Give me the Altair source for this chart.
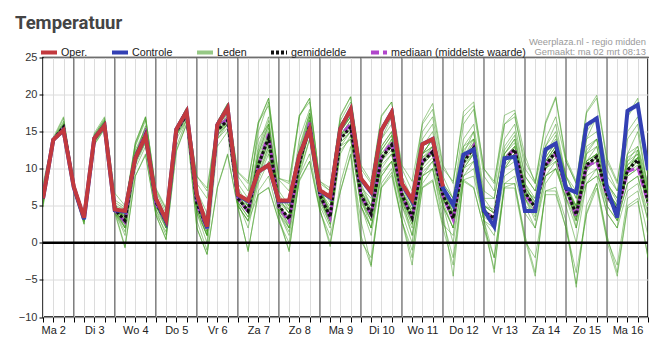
import altair as alt
import pandas as pd

# ---------------- data ----------------
dagen = ["Ma 2", "Di 3", "Wo 4", "Do 5", "Vr 6", "Za 7", "Zo 8", "Ma 9",
         "Di 10", "Wo 11", "Do 12", "Vr 13", "Za 14", "Zo 15", "Ma 16"]
# hours since Ma 2 00:00, every 6 hours (06, 12, 18, 00 ...)
uren = list(range(6, 361, 6))
daggrenzen = list(range(24, 337, 24))

oper = [6.0, 13.9, 15.2, 7.6, 3.4, 14.1, 15.8, 4.5, 4.3, 11.4, 14.4, 6.0,
        3.1, 15.3, 17.7, 6.5, 2.2, 15.9, 18.2, 6.5, 5.7, 9.6, 10.5, 5.7,
        5.7, 11.8, 15.3, 7.1, 6.2, 15.4, 18.0, 8.7, 6.9, 15.2, 17.6, 8.0,
        5.8, 13.3, 14.0, 7.6]

controle = [6.0, 13.9, 15.2, 7.5, 3.2, 14.1, 15.8, 4.4, 4.2, 11.4, 14.4, 5.9,
            2.9, 15.3, 17.7, 6.4, 2.0, 15.9, 18.2, 6.4, 5.6, 9.6, 10.5, 5.6,
            5.6, 11.8, 15.3, 7.0, 6.1, 15.4, 18.0, 8.6, 6.8, 15.2, 17.6, 7.9,
            5.6, 13.3, 14.0, 7.4, 5.1, 11.9, 12.6, 4.4, 2.2, 11.4, 11.6, 4.3,
            4.3, 12.6, 13.4, 7.4, 6.8, 15.9, 16.8, 7.4, 3.4, 17.8, 18.6, 9.8]

gemiddelde = [6.0, 13.9, 15.6, 7.5, 3.3, 14.0, 15.9, 4.5, 3.0, 11.5, 14.6, 5.5,
              2.8, 15.0, 17.3, 5.3, 2.0, 15.2, 16.5, 6.0, 4.3, 10.5, 14.2, 5.0,
              3.2, 10.8, 15.8, 6.5, 3.5, 14.0, 15.6, 6.5, 3.9, 11.4, 13.2, 6.5,
              3.4, 10.9, 12.3, 6.5, 3.3, 10.9, 12.8, 4.2, 3.3, 11.2, 12.6, 6.9,
              4.7, 10.5, 12.3, 7.4, 3.8, 10.5, 11.6, 6.5, 4.2, 9.8, 11.2, 5.6]

mediaan = [6.0, 13.9, 15.5, 7.5, 3.3, 14.0, 15.9, 4.4, 2.8, 11.6, 14.9, 5.3,
           2.9, 15.1, 17.4, 5.2, 1.9, 15.5, 16.7, 6.0, 4.2, 10.4, 14.7, 4.8,
           2.9, 11.0, 16.2, 6.5, 3.4, 14.5, 16.0, 6.4, 3.8, 11.6, 13.6, 6.4,
           3.4, 11.0, 12.4, 6.3, 3.1, 11.1, 13.1, 4.3, 3.3, 11.3, 12.7, 6.5,
           4.6, 10.5, 12.0, 7.2, 3.6, 10.4, 11.0, 6.4, 4.1, 9.6, 10.2, 5.4]

leden = [
    [7.5, 14.0, 16.8, 7.8, 3.6, 14.5, 16.8, 5.5, 4.5, 13.0, 16.5, 6.5, 3.5, 15.5, 18.0, 7.0,
     4.0, 16.0, 18.5, 8.0, 6.0, 15.0, 19.0, 7.0, 5.0, 14.0, 18.0, 7.5, 4.0, 16.0, 18.0, 8.0,
     5.0, 13.0, 15.0, 6.0, 1.0, 9.0, 10.0, 5.0, 0.0, 9.0, 10.0, 3.0, -2.0, 8.0, 9.0, 4.0,
     2.0, 9.0, 11.0, 5.0, 0.0, 8.0, 10.0, 4.0, 2.0, 12.0, 15.0, 7.0],
    [5.0, 13.8, 15.2, 7.2, 3.0, 13.8, 15.6, 4.2, 1.0, 10.0, 13.0, 4.0, 1.5, 14.0, 16.5, 4.0,
     0.0, 14.5, 16.0, 5.5, 2.0, 8.0, 11.0, 4.0, 1.0, 9.0, 14.0, 5.0, 2.0, 12.0, 14.5, 5.0,
     1.0, 9.0, 11.0, 5.0, 4.0, 12.0, 14.0, 7.0, 5.0, 13.0, 15.0, 6.0, 6.0, 14.0, 16.0, 9.0,
     7.0, 13.0, 15.0, 9.0, 6.0, 14.0, 17.0, 9.0, 7.0, 12.0, 13.0, 8.0],
    [6.5, 14.1, 15.8, 7.6, 3.4, 14.2, 16.2, 4.8, 3.5, 12.5, 15.5, 6.0, 3.0, 15.3, 17.5, 6.0,
     3.0, 16.0, 18.0, 7.0, 5.0, 16.0, 19.5, 8.5, 7.0, 17.0, 19.5, 8.0, 7.0, 17.0, 19.7, 10.0,
     8.0, 17.0, 19.0, 10.0, 7.0, 15.0, 17.0, 9.0, 6.0, 13.0, 14.0, 5.0, 2.0, 10.0, 12.0, 6.0,
     3.0, 9.0, 10.0, 6.0, 4.0, 12.0, 13.0, 7.0, 5.0, 11.0, 12.0, 6.0],
    [5.5, 13.9, 15.4, 7.4, 3.2, 13.6, 15.5, 4.3, -0.5, 9.0, 12.0, 3.8, 0.5, 12.5, 16.0, 2.0,
     -1.5, 7.5, 12.0, 4.7, -1.0, 6.5, 7.5, 3.0, -1.0, 8.5, 11.0, 4.5, 0.0, 7.0, 12.0, 3.0,
     -3.0, 7.5, 9.5, 3.0, -3.0, 7.5, 8.5, 2.5, 1.0, 9.0, 11.0, 3.0, 2.0, 10.0, 12.0, 5.0,
     4.0, 11.0, 13.0, 8.0, 5.0, 13.0, 14.0, 7.0, 3.0, 8.0, 9.0, 3.0],
    [6.0, 13.9, 15.6, 7.5, 3.3, 14.0, 16.0, 4.6, 3.0, 11.5, 14.5, 5.5, 2.5, 15.0, 17.5, 5.5,
     2.5, 15.5, 17.0, 6.0, 4.0, 11.0, 15.0, 5.0, 3.0, 12.0, 17.0, 7.0, 4.0, 15.0, 17.0, 7.0,
     4.0, 14.0, 17.0, 8.0, 5.0, 14.0, 16.0, 8.0, 6.0, 16.0, 18.0, 9.0, 7.0, 16.0, 17.5, 10.0,
     8.0, 16.0, 19.5, 11.0, 8.0, 17.5, 19.5, 11.0, 8.0, 17.0, 19.0, 9.5],
    [4.8, 13.7, 15.1, 7.1, 2.5, 13.3, 15.4, 4.1, 2.0, 11.0, 14.0, 5.0, 2.0, 14.5, 17.0, 4.5,
     1.0, 15.0, 16.5, 5.5, 3.5, 9.5, 13.0, 4.5, 2.0, 10.0, 15.0, 6.0, 3.0, 13.0, 15.0, 6.0,
     2.0, 10.0, 12.0, 5.0, 1.0, 8.0, 10.0, 4.0, -4.5, 8.5, 7.5, 2.0, -3.5, 7.5, 8.0, 1.0,
     -4.0, 7.0, 7.0, 2.0, -5.5, 4.0, 8.0, 1.0, -4.0, 5.0, 6.0, -2.0],
    [6.2, 13.9, 15.7, 7.6, 3.5, 14.1, 16.0, 4.5, 4.0, 12.0, 15.0, 6.0, 3.5, 15.5, 17.8, 5.5,
     2.0, 15.5, 17.0, 6.0, 5.0, 12.0, 16.0, 5.5, 4.0, 12.0, 17.0, 7.0, 4.0, 15.0, 17.0, 7.0,
     5.0, 13.0, 15.0, 7.0, 4.0, 12.0, 14.0, 7.0, 3.0, 12.0, 15.0, 6.0, 4.0, 12.0, 14.0, 8.0,
     5.0, 11.0, 13.0, 8.0, 3.0, 10.0, 11.0, 6.0, 5.0, 9.0, 10.0, 5.0],
    [6.0, 13.9, 15.5, 7.5, 3.4, 14.0, 15.8, 4.4, 3.0, 11.5, 15.0, 5.0, 3.0, 15.2, 17.2, 5.0,
     2.0, 15.8, 16.8, 6.0, 4.5, 10.0, 14.0, 4.5, 3.0, 10.0, 15.5, 6.5, 3.5, 14.5, 16.0, 6.0,
     3.0, 11.0, 12.5, 6.0, 3.0, 11.0, 12.0, 6.0, 3.0, 11.0, 13.0, 4.0, 3.0, 11.0, 12.0, 7.0,
     5.0, 10.0, 12.0, 8.0, 4.0, 11.0, 12.0, 6.0, 4.0, 10.0, 11.0, 5.0],
    [7.0, 14.0, 16.0, 7.7, 3.6, 14.4, 16.5, 5.0, 4.5, 13.5, 17.0, 7.0, 4.0, 15.5, 18.0, 8.0,
     6.0, 16.3, 18.8, 9.0, 7.0, 14.0, 16.0, 6.0, 5.0, 11.0, 15.0, 6.0, 3.0, 13.0, 14.0, 5.0,
     2.0, 9.0, 11.0, 4.0, 0.0, 9.0, 11.0, 5.0, 2.0, 10.0, 12.0, 4.0, 3.0, 12.0, 14.0, 7.0,
     6.0, 13.0, 16.0, 9.0, 7.0, 14.0, 15.0, 8.0, 6.0, 14.0, 16.0, 7.0],
    [5.8, 13.8, 15.4, 7.3, 3.1, 13.9, 15.7, 4.3, 2.0, 11.0, 14.0, 4.5, 2.0, 14.8, 17.0, 4.0,
     1.0, 14.5, 16.0, 5.0, 3.0, 9.0, 13.0, 4.0, 2.0, 10.0, 16.0, 6.0, 3.0, 15.0, 17.0, 6.0,
     3.0, 11.0, 13.0, 6.0, 3.0, 11.0, 13.0, 6.0, 3.0, 11.0, 13.0, 4.0, 3.0, 11.0, 12.0, 6.0,
     4.0, 10.0, 11.0, 6.0, 3.0, 9.0, 10.0, 5.0, 3.0, 8.0, 9.0, 4.0],
    [5.2, 13.7, 15.2, 7.2, 2.8, 13.5, 15.5, 4.2, 1.5, 10.5, 13.5, 4.5, 1.0, 13.0, 16.5, 3.0,
     -1.0, 13.0, 15.0, 5.0, -1.2, 7.0, 9.0, 3.5, -1.2, 9.0, 12.0, 4.5, -0.5, 8.0, 13.0, 1.0,
     -3.2, 8.0, 10.0, 3.0, -2.0, 9.0, 10.0, 3.0, -2.0, 8.5, 9.0, 3.0, -4.0, 8.0, 8.0, 0.5,
     -4.5, 7.0, 7.5, 3.0, -6.0, 5.0, 8.0, 0.5, -3.0, 6.0, 7.0, 1.0],
    [6.1, 13.9, 15.6, 7.5, 3.3, 14.0, 15.9, 4.5, 3.2, 11.8, 14.8, 5.6, 3.0, 15.0, 17.3, 5.3,
     2.0, 15.2, 16.5, 6.0, 4.5, 10.5, 14.5, 5.0, 3.5, 11.0, 16.0, 6.5, 3.5, 14.0, 15.5, 6.5,
     4.0, 11.5, 13.0, 6.5, 3.5, 11.0, 12.5, 6.5, 3.5, 11.0, 13.0, 4.5, 3.5, 11.5, 13.0, 7.0,
     5.0, 10.5, 12.5, 7.5, 4.0, 10.5, 12.0, 6.5, 4.5, 10.0, 11.5, 5.5],
    [6.8, 14.0, 16.4, 7.8, 3.7, 14.6, 16.6, 5.8, 4.8, 13.2, 16.8, 7.2, 4.5, 15.6, 18.2, 9.0,
     7.0, 16.0, 18.0, 9.5, 8.0, 16.3, 18.5, 8.7, 8.0, 17.2, 19.0, 8.3, 7.0, 16.5, 19.0, 9.0,
     7.0, 15.0, 17.0, 9.0, 6.0, 16.3, 18.8, 10.5, 8.0, 17.7, 19.0, 10.0, 8.0, 17.2, 17.9, 11.8,
     8.0, 14.0, 17.0, 11.0, 8.0, 15.0, 17.0, 10.0, 7.0, 15.0, 17.0, 9.0],
    [6.3, 14.0, 15.9, 7.6, 3.5, 14.2, 16.3, 5.0, 3.5, 12.0, 15.5, 6.0, 3.2, 15.3, 17.6, 6.0,
     3.0, 15.8, 17.5, 6.5, 5.5, 13.0, 17.0, 6.5, 4.5, 13.0, 17.5, 7.0, 5.0, 15.5, 17.0, 7.5,
     6.0, 14.0, 16.0, 8.0, 6.0, 13.0, 15.0, 8.0, 6.0, 14.0, 16.0, 7.0, 6.0, 13.0, 15.0, 9.0,
     7.0, 12.0, 14.0, 9.0, 6.0, 12.0, 14.0, 8.0, 6.0, 11.0, 13.0, 7.0],
    [5.6, 13.8, 15.3, 7.3, 3.0, 13.8, 15.6, 4.3, 2.5, 10.8, 13.8, 5.0, 2.2, 14.5, 16.8, 4.5,
     1.0, 14.0, 15.5, 5.0, 3.0, 8.5, 12.0, 4.0, 1.5, 9.5, 14.0, 5.5, 2.5, 12.5, 14.0, 5.0,
     2.0, 9.5, 11.0, 5.0, 2.0, 9.5, 11.0, 5.0, 2.0, 10.0, 11.0, 3.0, 1.0, 9.0, 10.0, 5.0,
     2.0, 8.0, 10.0, 6.0, 2.0, 8.0, 9.0, 4.0, 2.0, 7.0, 8.0, 3.0],
    [6.4, 14.0, 16.0, 7.6, 3.4, 14.3, 16.4, 5.2, 2.5, 11.0, 13.5, 5.5, 2.5, 14.5, 16.5, 5.0,
     1.5, 14.0, 16.0, 6.5, 4.5, 12.0, 16.0, 6.0, 4.0, 12.5, 17.5, 7.5, 5.5, 16.0, 18.0, 8.5,
     6.5, 15.0, 17.5, 8.5, 5.0, 12.0, 13.0, 7.0, 4.0, 11.0, 12.0, 5.0, 4.0, 10.0, 11.0, 7.0,
     5.0, 9.0, 10.0, 7.0, 5.0, 8.0, 9.0, 7.0, 5.0, 9.0, 10.0, 6.0],
    [5.9, 13.9, 15.5, 7.4, 3.2, 13.9, 15.8, 4.4, 2.5, 11.0, 14.0, 5.0, 2.5, 15.0, 17.0, 5.0,
     2.0, 15.0, 16.5, 6.0, 4.0, 10.0, 13.5, 4.5, 2.5, 10.0, 15.5, 6.5, 3.5, 14.0, 15.5, 6.5,
     4.0, 12.0, 14.0, 7.0, 4.0, 12.0, 13.0, 6.5, 3.5, 11.5, 13.5, 4.0, 3.0, 11.0, 12.5, 6.5,
     4.5, 10.0, 11.5, 7.0, 3.5, 10.0, 11.0, 6.0, 4.0, 9.5, 10.5, 5.0],
    [6.0, 13.9, 15.6, 7.5, 3.3, 14.0, 15.9, 4.5, 3.5, 11.5, 14.5, 5.5, 3.0, 15.0, 17.5, 5.5,
     2.5, 15.5, 17.0, 6.5, 4.5, 11.0, 14.5, 5.0, 3.0, 10.5, 16.0, 6.5, 3.5, 14.5, 16.0, 7.0,
     4.5, 12.0, 13.5, 7.0, 4.0, 11.0, 12.5, 7.0, 4.0, 11.0, 13.0, 5.0, 4.0, 11.5, 13.0, 7.5,
     5.5, 11.0, 13.0, 8.0, 4.5, 11.0, 12.0, 7.0, 5.0, 10.0, 11.5, 6.0],
    [5.3, 13.7, 15.0, 7.0, 2.6, 13.2, 15.3, 4.0, -0.7, 9.0, 11.8, 3.8, 0.4, 12.3, 16.0, 2.0,
     -1.6, 7.4, 11.8, 5.0, 2.9, 6.5, 7.4, 2.9, 0.0, 8.3, 11.0, 4.2, 1.0, 6.9, 11.8, 0.2,
     -2.0, 7.4, 9.1, 2.9, -1.0, 7.4, 8.3, 2.0, -3.0, 8.3, 7.4, 2.0, -2.0, 7.4, 7.4, 0.2,
     -2.0, 6.5, 6.5, 2.0, -4.0, 3.8, 7.4, 0.2, -4.5, 4.7, 5.6, -2.0],
    [8.0, 14.2, 17.0, 8.0, 3.8, 14.8, 17.0, 6.7, 5.0, 13.5, 17.0, 7.4, 4.7, 15.6, 18.2, 9.0,
     7.4, 16.3, 18.8, 9.6, 8.3, 16.3, 19.5, 8.7, 8.3, 17.2, 19.5, 8.3, 7.4, 17.2, 19.7, 10.5,
     8.3, 17.2, 19.0, 10.5, 8.3, 16.0, 18.0, 10.0, 8.3, 17.0, 18.5, 10.0, 8.3, 16.0, 17.0, 11.0,
     8.3, 16.3, 19.7, 11.4, 8.3, 17.7, 19.9, 11.4, 8.3, 17.2, 19.5, 9.6],
    [6.2, 13.9, 15.8, 7.5, 3.3, 14.1, 16.1, 4.7, 2.0, 11.0, 14.5, 5.0, 3.5, 15.3, 17.0, 6.0,
     3.5, 15.0, 17.5, 7.5, 5.0, 11.5, 15.5, 5.5, 2.0, 11.5, 16.5, 6.0, 2.5, 14.5, 16.5, 5.5,
     3.0, 11.0, 14.0, 6.0, 2.5, 10.5, 12.0, 5.5, 2.0, 11.5, 14.0, 5.0, 4.0, 12.5, 14.5, 8.0,
     6.0, 12.0, 14.5, 8.5, 2.0, 9.5, 12.0, 5.0, 3.0, 9.5, 12.5, 6.5],
    [5.7, 13.8, 15.4, 7.4, 3.1, 13.8, 15.7, 4.2, 3.8, 12.0, 15.2, 6.2, 2.0, 14.8, 17.0, 4.5,
     1.0, 15.0, 16.0, 5.5, 3.5, 9.0, 12.5, 4.0, 3.5, 11.5, 16.5, 7.0, 4.5, 14.5, 16.5, 7.5,
     5.0, 12.5, 14.5, 7.5, 4.5, 12.0, 14.0, 7.5, 4.0, 12.5, 14.0, 4.5, 2.0, 10.5, 12.0, 6.0,
     3.5, 10.0, 12.0, 7.0, 3.0, 11.0, 13.0, 7.5, 4.5, 10.5, 12.0, 6.0],
    [6.6, 14.0, 16.2, 7.7, 3.5, 14.3, 16.4, 5.3, 3.0, 11.8, 15.8, 5.8, 3.3, 15.5, 17.8, 6.5,
     2.5, 16.0, 17.8, 6.5, 4.0, 12.5, 16.5, 6.0, 4.0, 11.5, 16.5, 7.0, 3.0, 14.0, 16.0, 6.0,
     3.5, 10.5, 12.0, 5.5, 2.5, 10.0, 11.5, 6.0, 3.5, 10.5, 12.0, 3.5, 2.5, 11.0, 12.5, 6.5,
     4.0, 11.5, 13.5, 7.5, 5.0, 12.5, 14.0, 8.0, 5.5, 11.5, 12.5, 6.5],
    [5.4, 13.8, 15.3, 7.3, 3.0, 13.7, 15.6, 4.3, 2.2, 10.8, 14.0, 5.2, 2.5, 14.8, 17.2, 4.8,
     1.5, 15.2, 16.2, 6.0, 4.5, 10.0, 13.5, 4.8, 3.5, 10.5, 15.0, 6.0, 3.0, 13.5, 15.0, 6.5,
     4.0, 11.0, 13.5, 6.5, 3.0, 10.5, 12.0, 6.0, 3.0, 10.5, 12.5, 4.0, 3.5, 11.0, 12.5, 7.0,
     4.5, 10.5, 12.0, 7.0, 3.5, 10.0, 11.5, 6.5, 3.5, 9.5, 11.0, 5.0],
    [6.0, 13.9, 15.6, 7.5, 3.4, 14.0, 15.9, 4.6, 3.3, 11.5, 14.2, 5.8, 2.8, 15.0, 17.2, 5.8,
     2.5, 15.0, 16.8, 6.0, 4.0, 10.5, 14.0, 5.0, 3.0, 11.0, 16.0, 6.0, 4.0, 14.0, 16.0, 6.5,
     4.0, 11.5, 13.5, 6.0, 3.0, 11.5, 13.0, 6.0, 3.0, 11.0, 13.5, 4.5, 3.0, 11.5, 13.0, 6.5,
     5.0, 11.0, 12.5, 7.5, 4.0, 11.0, 12.0, 6.5, 4.0, 10.0, 11.5, 6.0],
    [6.5, 14.0, 15.9, 7.6, 3.2, 14.1, 16.0, 4.5, 3.8, 12.2, 14.8, 6.0, 3.5, 15.2, 17.5, 5.5,
     2.0, 14.5, 16.5, 6.5, 5.0, 11.0, 14.0, 5.5, 4.5, 10.0, 15.0, 7.0, 4.5, 13.5, 15.0, 7.0,
     4.5, 12.5, 14.5, 7.0, 4.5, 11.5, 12.5, 7.0, 4.5, 10.0, 12.0, 5.0, 4.5, 12.0, 13.5, 7.5,
     5.5, 11.5, 13.5, 8.0, 4.5, 10.5, 11.5, 7.0, 4.5, 10.5, 11.5, 6.0],
]

series = ["Oper.", "Controle", "Leden", "gemiddelde", "mediaan (middelste waarde)"]
kleuren = ["#c2393e", "#3340b4", "rgba(66,156,34,0.55)", "#111111", "#b146cc"]
strepen = [[1, 0], [1, 0], [1, 0], [3, 2], [8, 4]]

FONT = "Liberation Sans"

# ---------------- tables ----------------
def table(values, serie, lid):
    return pd.DataFrame({"uur": uren[:len(values)], "temp": values,
                         "serie": serie, "lid": lid})

df_leden = pd.concat([table(v, "Leden", f"lid{i}") for i, v in enumerate(leden)],
                     ignore_index=True)
df_oper = table(oper, "Oper.", "oper")
df_ctrl = table(controle, "Controle", "controle")
df_gem = table(gemiddelde, "gemiddelde", "gem")
df_med = table(mediaan, "mediaan (middelste waarde)", "med")

# ---------------- encodings ----------------
legend = alt.Legend(
    title=None, orient="none", legendX=-4, legendY=-15, direction="horizontal",
    symbolType="stroke", symbolSize=256, symbolStrokeWidth=4,
    labelFont=FONT, labelFontSize=10.7, labelColor="#222",
    columnPadding=16, labelOffset=2,
)

dag_expr = "[" + ",".join("'" + d + "'" for d in dagen) + "]"
x_enc = alt.X("uur:Q", scale=alt.Scale(domain=[6, 360], nice=False, zero=False),
              axis=alt.Axis(values=uren, grid=True, gridColor="#dcdcdc", title=None,
                            labelExpr="datum.value % 24 == 12 ? " + dag_expr +
                                      "[floor(datum.value / 24)] : ''",
                            labelOverlap=False, labelFont=FONT, labelFontSize=11,
                            labelColor="#222", tickColor="#000", tickSize=5,
                            labelPadding=2, domain=False))
y_enc = alt.Y("temp:Q", scale=alt.Scale(domain=[-10, 25], nice=False, zero=False),
              axis=alt.Axis(values=[-10, -5, 0, 5, 10, 15, 20, 25], grid=True,
                            gridColor="#dcdcdc", title=None, labelFont=FONT,
                            labelFontSize=11, labelColor="#333", tickColor="#000",
                            tickSize=4, labelPadding=2, domain=False,
                            labelOverlap=False))
color_enc = alt.Color("serie:N", scale=alt.Scale(domain=series, range=kleuren), legend=legend)
dash_enc = alt.StrokeDash("serie:N", scale=alt.Scale(domain=series, range=strepen), legend=legend)


def line_layer(df, width):
    return alt.Chart(df).mark_line(strokeWidth=width, clip=True,
                                   strokeJoin="miter").encode(
        x=x_enc, y=y_enc, color=color_enc, strokeDash=dash_enc, detail="lid:N")


dag_lijnen = alt.Chart(pd.DataFrame({"uur": daggrenzen})).mark_rule(
    color="#555555", strokeWidth=1).encode(x=x_enc)
nul_lijn = alt.Chart(pd.DataFrame({"temp": [0]})).mark_rule(
    color="#000000", strokeWidth=2.5).encode(y=y_enc)

titel = alt.Chart(pd.DataFrame({"t": ["Temperatuur"]})).mark_text(
    align="left", baseline="alphabetic", font="Roboto", fontSize=18.5,
    fontWeight="bold", color="#444444").encode(
    text="t:N", x=alt.value(-28), y=alt.value(-28.5))
bron1 = alt.Chart(pd.DataFrame({"t": ["Weerplaza.nl - regio midden"]})).mark_text(
    align="right", baseline="middle", font=FONT, fontSize=9.4, color="#9a9a9a").encode(
    text="t:N", x=alt.value(603), y=alt.value(-16))
bron2 = alt.Chart(pd.DataFrame({"t": ["Gemaakt: ma 02 mrt 08:13"]})).mark_text(
    align="right", baseline="middle", font=FONT, fontSize=9.4, color="#9a9a9a").encode(
    text="t:N", x=alt.value(603), y=alt.value(-6))

chart = alt.layer(
    dag_lijnen,
    line_layer(df_leden, 1),
    nul_lijn,
    line_layer(df_med, 3),
    line_layer(df_gem, 3),
    line_layer(df_ctrl, 4),
    line_layer(df_oper, 4),
    titel, bron1, bron2,
).properties(
    width=605, height=259.5,
    padding={"left": 43, "top": 57.5, "right": 24, "bottom": 38},
    autosize=alt.AutoSizeParams(type="none"),
    background="white",
).configure_view(stroke="#000000", strokeWidth=1.5)

chart.save("out.html", embed_options={"renderer": "svg", "actions": False})
